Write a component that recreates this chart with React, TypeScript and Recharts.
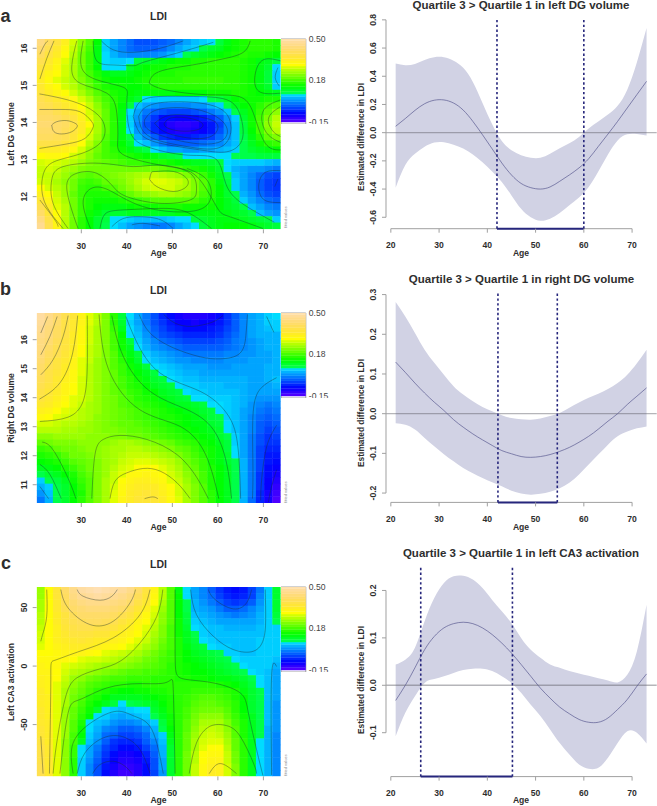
import React from 'react';
import {
  ComposedChart, ScatterChart, Scatter, Area, Line, XAxis, YAxis, ReferenceLine, ReferenceArea,
} from 'recharts';

const FONT = '"Liberation Sans", Arial, sans-serif';
const INK = '#2e2e2e';
const AXIS_GREY = '#a0a0a0';
const NAVY = '#26267c';

// cell centres of the 30 x 30 grid, ages are shared by the three maps
const heatAges = [21.1, 22.9, 24.7, 26.5, 28.3, 30.1, 31.9, 33.6, 35.4, 37.2, 39, 40.8, 42.5, 44.3, 46.1, 47.9, 49.7, 51.5, 53.2, 55, 56.8, 58.6, 60.4, 62.2, 63.9, 65.7, 67.5, 69.3, 71.1, 72.9];
const rowsYA = [16.16, 15.99, 15.82, 15.65, 15.48, 15.31, 15.14, 14.96, 14.79, 14.62, 14.45, 14.28, 14.11, 13.94, 13.77, 13.6, 13.43, 13.26, 13.09, 12.92, 12.74, 12.57, 12.4, 12.23, 12.06, 11.89, 11.72, 11.55, 11.38, 11.21];
const rowsYB = [16.81, 16.59, 16.37, 16.16, 15.94, 15.72, 15.5, 15.28, 15.06, 14.85, 14.63, 14.41, 14.19, 13.97, 13.75, 13.54, 13.32, 13.1, 12.88, 12.66, 12.44, 12.23, 12.01, 11.79, 11.57, 11.35, 11.13, 10.92, 10.7, 10.48];
const rowsYC = [64.9, 59.5, 54.1, 48.7, 43.3, 37.9, 32.5, 27.1, 21.7, 16.3, 10.9, 5.5, 0.1, -5.3, -10.7, -16.1, -21.5, -26.9, -32.3, -37.7, -43.1, -48.5, -53.9, -59.3, -64.7, -70.1, -75.5, -80.9, -86.3, -91.7];

// LDI x 100, top row first
const heatA = [
  [44, 40, 36, 32, 27, 22, 18, 12, 5, 2, 0, -2, -4, -4, -4, -3, -2, 0, 2, 4, 5, 6, 8, 11, 13, 14, 15, 15, 15, 14],
  [42, 38, 34, 30, 26, 21, 17, 11, 5, 2, 0, -2, -3, -3, -3, -2, 0, 2, 4, 5, 7, 9, 10, 12, 13, 14, 15, 15, 15, 14],
  [40, 36, 33, 29, 25, 20, 16, 11, 6, 3, 1, 0, 0, 0, 0, 1, 3, 5, 7, 9, 10, 11, 12, 13, 14, 15, 14, 14, 13, 12],
  [38, 34, 31, 28, 24, 20, 16, 11, 6, 5, 5, 6, 8, 9, 10, 11, 12, 13, 13, 14, 14, 15, 15, 15, 15, 14, 13, 11, 10, 8],
  [36, 33, 30, 27, 24, 20, 16, 12, 6, 6, 6, 9, 11, 12, 13, 13, 14, 14, 14, 15, 15, 15, 15, 15, 15, 14, 13, 11, 9, 6],
  [34, 31, 29, 27, 24, 20, 17, 14, 11, 10, 10, 11, 12, 13, 14, 14, 14, 15, 15, 15, 15, 15, 15, 15, 15, 14, 13, 11, 8, 5],
  [33, 30, 28, 26, 24, 21, 18, 15, 13, 12, 12, 12, 13, 14, 15, 15, 15, 15, 16, 16, 16, 16, 16, 15, 15, 14, 13, 11, 8, 5],
  [34, 31, 29, 27, 25, 22, 19, 16, 14, 13, 13, 12, 12, 13, 14, 15, 15, 15, 15, 15, 15, 15, 15, 15, 15, 14, 13, 11, 9, 5],
  [36, 33, 31, 29, 27, 24, 21, 18, 16, 14, 13, 12, 11, 11, 11, 11, 11, 12, 12, 12, 12, 13, 13, 13, 14, 14, 13, 12, 11, 10],
  [38, 36, 34, 32, 30, 27, 24, 20, 17, 15, 13, 11, 9, 6, 5, 5, 5, 5, 5, 5, 6, 7, 8, 10, 12, 13, 13, 13, 14, 14],
  [39, 38, 36, 34, 32, 29, 26, 22, 18, 15, 12, 8, 4, 2, 1, 0, 0, 0, 0, 1, 1, 3, 5, 7, 10, 12, 13, 15, 17, 18],
  [40, 40, 38, 36, 34, 31, 27, 23, 19, 15, 11, 6, 2, -1, -3, -4, -5, -5, -5, -4, -3, -1, 1, 4, 7, 10, 13, 16, 19, 22],
  [41, 41, 40, 38, 36, 32, 28, 24, 19, 15, 11, 5, 1, -3, -6, -9, -9, -10, -10, -9, -8, -6, -3, 1, 5, 9, 13, 17, 21, 25],
  [42, 42, 41, 40, 37, 33, 29, 24, 19, 15, 11, 5, 0, -4, -7, -10, -12, -13, -13, -12, -10, -8, -5, 0, 4, 8, 13, 17, 22, 26],
  [41, 41, 41, 39, 36, 33, 28, 24, 19, 15, 11, 6, 1, -3, -7, -9, -11, -12, -12, -11, -10, -8, -4, 0, 4, 8, 12, 17, 21, 25],
  [40, 40, 39, 38, 35, 31, 27, 23, 18, 15, 11, 7, 3, 0, -3, -6, -7, -8, -8, -7, -6, -5, -2, 1, 4, 7, 11, 15, 19, 21],
  [37, 37, 37, 35, 33, 29, 25, 21, 17, 14, 12, 9, 6, 4, 1, -1, -3, -3, -3, -3, -2, -1, 0, 2, 4, 7, 10, 13, 15, 16],
  [33, 33, 33, 32, 30, 27, 23, 20, 17, 15, 13, 11, 9, 7, 6, 4, 2, 2, 1, 1, 2, 2, 3, 4, 5, 7, 9, 10, 11, 12],
  [29, 30, 30, 29, 27, 25, 22, 19, 17, 16, 15, 14, 13, 12, 11, 9, 8, 7, 6, 6, 6, 6, 6, 6, 7, 7, 7, 8, 8, 8],
  [27, 28, 27, 26, 25, 23, 21, 20, 19, 18, 17, 16, 16, 15, 14, 14, 13, 12, 11, 10, 10, 9, 8, 6, 5, 5, 5, 5, 4, 3],
  [26, 27, 26, 24, 23, 21, 20, 20, 20, 20, 20, 20, 20, 20, 20, 19, 18, 17, 15, 14, 13, 11, 9, 6, 3, 2, 1, 1, 0, -1],
  [26, 26, 25, 23, 21, 19, 18, 19, 20, 21, 22, 23, 24, 25, 26, 25, 24, 23, 21, 19, 16, 13, 10, 7, 4, 2, 0, -2, -4, -5],
  [27, 26, 24, 22, 20, 17, 16, 17, 19, 20, 21, 23, 25, 27, 28, 28, 27, 26, 24, 21, 18, 15, 11, 8, 5, 2, 0, -3, -5, -6],
  [29, 27, 25, 23, 20, 16, 15, 15, 17, 18, 20, 22, 24, 26, 27, 27, 27, 25, 24, 21, 18, 15, 12, 9, 5, 2, 0, -3, -5, -6],
  [32, 29, 26, 23, 19, 16, 14, 14, 14, 15, 17, 19, 21, 22, 23, 24, 24, 23, 22, 20, 17, 15, 12, 9, 7, 3, 1, -2, -4, -5],
  [35, 31, 27, 24, 20, 16, 14, 13, 13, 13, 14, 15, 16, 17, 18, 18, 18, 18, 18, 17, 15, 14, 12, 10, 8, 5, 2, 0, -2, -3],
  [38, 33, 28, 25, 20, 16, 14, 12, 11, 11, 11, 12, 13, 13, 13, 14, 14, 14, 13, 13, 13, 13, 12, 10, 9, 7, 4, 2, 0, -1],
  [41, 35, 29, 25, 20, 16, 13, 11, 9, 9, 9, 10, 10, 10, 10, 10, 10, 11, 11, 11, 11, 11, 11, 11, 10, 9, 7, 4, 2, 1],
  [44, 37, 30, 25, 20, 15, 12, 9, 8, 6, 6, 5, 4, 4, 4, 4, 5, 6, 6, 8, 9, 10, 11, 11, 11, 10, 9, 8, 7, 5],
  [46, 38, 31, 25, 20, 15, 12, 9, 7, 6, 4, 2, 1, 0, -1, -1, 0, 2, 4, 6, 8, 10, 11, 12, 12, 12, 11, 10, 9, 8],
];

const heatB = [
  [48, 45, 42, 38, 35, 31, 28, 25, 21, 15, 8, 6, 2, -1, -4, -7, -9, -11, -12, -12, -12, -11, -9, -6, -3, 0, 2, 3, 5, 6],
  [47, 44, 41, 37, 34, 31, 28, 25, 21, 15, 9, 5, 2, -1, -4, -6, -8, -10, -10, -11, -10, -10, -8, -6, -3, 0, 2, 3, 5, 5],
  [46, 43, 40, 37, 34, 30, 27, 24, 21, 16, 10, 6, 3, 0, -3, -5, -7, -8, -9, -9, -9, -8, -7, -5, -3, 0, 2, 3, 4, 5],
  [45, 43, 40, 37, 33, 30, 27, 24, 21, 17, 12, 6, 4, 1, -2, -4, -5, -6, -7, -7, -7, -7, -6, -4, -2, 0, 2, 3, 3, 3],
  [44, 42, 39, 36, 33, 30, 27, 24, 21, 17, 13, 8, 5, 2, 0, -2, -3, -4, -5, -5, -5, -5, -4, -3, -1, 0, 1, 2, 3, 3],
  [44, 41, 38, 36, 33, 29, 26, 24, 21, 17, 13, 10, 6, 3, 1, 0, -1, -2, -3, -3, -3, -3, -3, -2, -1, 0, 1, 2, 3, 3],
  [43, 40, 38, 35, 32, 29, 26, 24, 21, 18, 14, 11, 8, 5, 3, 2, 1, 0, -1, -1, -1, -1, -1, 0, 0, 1, 1, 2, 2, 3],
  [42, 39, 36, 34, 31, 28, 26, 23, 21, 18, 15, 12, 9, 6, 4, 3, 2, 1, 1, 0, 0, 0, 0, 1, 1, 1, 2, 2, 2, 3],
  [41, 38, 36, 33, 31, 28, 25, 23, 21, 18, 16, 13, 11, 8, 6, 5, 4, 3, 2, 2, 2, 1, 1, 1, 2, 2, 2, 2, 3, 3],
  [40, 37, 35, 33, 30, 28, 25, 23, 21, 19, 16, 14, 12, 10, 8, 6, 5, 4, 3, 3, 2, 2, 2, 2, 2, 2, 2, 2, 3, 3],
  [39, 37, 34, 32, 30, 27, 25, 23, 21, 19, 17, 15, 13, 11, 9, 8, 6, 5, 4, 4, 3, 3, 3, 3, 3, 3, 2, 2, 3, 4],
  [38, 36, 34, 31, 29, 27, 25, 23, 21, 19, 17, 15, 14, 12, 10, 9, 8, 6, 5, 5, 4, 4, 4, 3, 3, 3, 2, 2, 2, 3],
  [37, 35, 33, 31, 29, 27, 25, 23, 21, 19, 18, 16, 15, 13, 12, 10, 9, 8, 6, 5, 5, 4, 4, 4, 4, 3, 2, 2, 2, 2],
  [36, 34, 32, 30, 28, 27, 25, 23, 21, 20, 18, 17, 15, 14, 13, 11, 10, 9, 8, 6, 6, 5, 5, 5, 4, 3, 2, 1, 1, 1],
  [34, 33, 31, 29, 28, 26, 24, 23, 21, 20, 18, 17, 16, 15, 14, 13, 11, 10, 10, 9, 8, 6, 6, 5, 4, 3, 1, 0, -1, 0],
  [32, 31, 29, 28, 27, 25, 24, 23, 21, 20, 19, 18, 17, 16, 15, 14, 13, 12, 11, 10, 9, 8, 6, 5, 4, 2, 1, -1, -2, -1],
  [30, 29, 28, 27, 26, 25, 24, 22, 21, 20, 19, 18, 17, 16, 15, 14, 14, 13, 12, 11, 10, 8, 7, 5, 4, 2, 0, -2, -3, -2],
  [27, 27, 26, 25, 25, 24, 23, 22, 21, 20, 19, 19, 18, 17, 16, 15, 14, 13, 12, 11, 11, 9, 8, 6, 4, 2, 0, -3, -4, -3],
  [25, 25, 25, 24, 24, 23, 23, 22, 21, 21, 20, 19, 19, 18, 17, 16, 15, 14, 13, 12, 11, 10, 9, 6, 4, 2, 0, -3, -5, -4],
  [22, 22, 23, 23, 23, 23, 22, 22, 22, 21, 21, 20, 20, 19, 18, 17, 16, 15, 14, 13, 12, 11, 9, 7, 5, 2, -1, -4, -6, -5],
  [19, 20, 21, 21, 21, 22, 22, 22, 22, 23, 24, 24, 23, 22, 21, 20, 19, 17, 16, 15, 13, 12, 10, 8, 5, 2, -1, -4, -6, -6],
  [16, 17, 19, 20, 20, 21, 22, 22, 23, 24, 24, 25, 25, 24, 23, 22, 21, 19, 18, 16, 14, 13, 11, 8, 6, 2, -1, -5, -7, -7],
  [14, 15, 16, 18, 20, 20, 21, 22, 23, 24, 25, 26, 26, 26, 25, 24, 23, 21, 19, 17, 15, 13, 11, 9, 6, 2, -1, -5, -8, -8],
  [12, 13, 14, 16, 18, 19, 20, 21, 23, 24, 26, 27, 28, 28, 27, 26, 25, 23, 20, 18, 16, 13, 11, 9, 7, 3, -1, -5, -8, -9],
  [10, 11, 12, 14, 16, 18, 20, 21, 23, 25, 27, 28, 29, 29, 29, 28, 26, 24, 21, 19, 16, 14, 12, 10, 7, 3, -1, -5, -9, -10],
  [7, 9, 10, 12, 14, 17, 19, 21, 23, 26, 28, 30, 30, 31, 30, 29, 27, 25, 22, 20, 17, 14, 12, 10, 7, 3, -1, -6, -9, -11],
  [5, 7, 8, 10, 13, 16, 18, 21, 24, 26, 29, 31, 32, 32, 31, 30, 28, 26, 23, 20, 17, 14, 12, 10, 7, 3, -1, -6, -10, -12],
  [3, 5, 7, 9, 12, 15, 18, 21, 24, 27, 30, 32, 33, 33, 33, 31, 29, 27, 24, 21, 18, 14, 12, 10, 7, 3, -1, -6, -10, -13],
  [1, 4, 7, 9, 12, 14, 18, 21, 24, 28, 30, 33, 34, 35, 34, 32, 30, 27, 24, 21, 18, 15, 12, 10, 7, 3, -1, -7, -11, -14],
  [-1, 3, 7, 9, 12, 15, 18, 21, 24, 28, 31, 33, 35, 35, 35, 33, 30, 28, 24, 21, 18, 15, 12, 10, 7, 3, -2, -7, -11, -15],
];

const heatC = [
  [23, 29, 35, 41, 45, 48, 49, 50, 49, 48, 47, 45, 41, 36, 31, 25, 18, 11, 6, 2, 0, -3, -6, -8, -9, -8, -5, -1, 5, 9],
  [23, 29, 35, 40, 44, 46, 47, 48, 47, 46, 45, 43, 39, 35, 30, 25, 18, 12, 6, 2, 0, -2, -5, -7, -8, -7, -5, 0, 5, 9],
  [24, 29, 34, 39, 42, 44, 45, 45, 45, 44, 43, 41, 37, 34, 29, 24, 18, 12, 7, 3, 1, -1, -3, -5, -6, -5, -3, 1, 5, 9],
  [24, 29, 34, 38, 41, 42, 43, 43, 43, 42, 41, 38, 35, 32, 28, 23, 18, 12, 7, 3, 2, 1, -1, -3, -3, -2, 0, 2, 5, 9],
  [25, 29, 33, 36, 39, 41, 41, 41, 41, 40, 38, 36, 33, 30, 27, 22, 18, 12, 8, 4, 3, 2, 1, 0, -1, 0, 1, 3, 5, 8],
  [25, 29, 33, 36, 38, 39, 40, 40, 39, 38, 36, 34, 31, 29, 26, 22, 18, 13, 8, 5, 4, 3, 2, 2, 2, 2, 2, 3, 5, 7],
  [26, 29, 32, 35, 37, 38, 38, 37, 37, 36, 34, 32, 30, 28, 25, 21, 17, 13, 9, 6, 5, 4, 4, 3, 3, 3, 3, 4, 5, 5],
  [27, 29, 32, 34, 36, 36, 36, 35, 35, 33, 32, 31, 29, 27, 24, 21, 17, 13, 10, 7, 5, 4, 4, 4, 4, 4, 4, 4, 5, 5],
  [27, 29, 32, 33, 34, 35, 34, 33, 33, 32, 31, 29, 28, 26, 23, 20, 17, 14, 10, 8, 6, 5, 4, 4, 4, 4, 4, 5, 5, 5],
  [28, 29, 31, 32, 33, 33, 33, 32, 31, 30, 29, 28, 26, 24, 22, 19, 17, 14, 11, 9, 8, 6, 5, 5, 4, 4, 4, 5, 5, 5],
  [29, 29, 30, 31, 31, 31, 30, 29, 28, 27, 26, 25, 24, 22, 20, 18, 16, 14, 12, 10, 9, 8, 7, 5, 5, 4, 4, 5, 5, 5],
  [30, 30, 30, 30, 29, 28, 27, 27, 26, 25, 24, 23, 22, 20, 19, 17, 16, 14, 12, 11, 10, 9, 8, 7, 6, 5, 5, 5, 5, 4],
  [31, 30, 30, 28, 27, 26, 25, 24, 23, 23, 22, 21, 20, 19, 18, 17, 15, 14, 13, 12, 11, 10, 9, 8, 7, 6, 5, 5, 5, 3],
  [31, 31, 29, 27, 25, 24, 23, 22, 21, 20, 19, 18, 18, 17, 17, 16, 15, 14, 13, 12, 12, 11, 10, 9, 8, 7, 6, 5, 4, 2],
  [32, 31, 29, 26, 23, 22, 20, 19, 18, 17, 17, 16, 16, 16, 15, 15, 15, 14, 14, 13, 13, 12, 11, 11, 10, 9, 7, 6, 4, 2],
  [32, 31, 28, 25, 22, 20, 18, 17, 16, 15, 15, 14, 14, 15, 15, 15, 15, 15, 15, 15, 15, 15, 14, 13, 12, 10, 8, 6, 4, 2],
  [33, 31, 28, 24, 21, 19, 17, 15, 14, 13, 12, 12, 13, 13, 14, 14, 15, 15, 15, 16, 16, 16, 16, 15, 14, 11, 9, 7, 4, 2],
  [33, 32, 28, 24, 20, 18, 15, 14, 12, 10, 10, 10, 10, 11, 12, 13, 14, 15, 16, 17, 18, 18, 17, 16, 14, 12, 9, 7, 4, 2],
  [33, 32, 28, 24, 20, 17, 14, 12, 10, 8, 6, 7, 8, 9, 10, 12, 14, 15, 16, 18, 19, 19, 18, 17, 15, 12, 9, 7, 4, 1],
  [34, 32, 28, 23, 19, 16, 13, 9, 6, 5, 4, 5, 6, 6, 9, 11, 14, 15, 17, 19, 20, 20, 20, 18, 15, 12, 9, 7, 4, 1],
  [34, 32, 28, 23, 19, 15, 12, 6, 5, 3, 2, 3, 4, 5, 7, 10, 13, 15, 17, 20, 22, 22, 22, 19, 16, 13, 10, 7, 4, 1],
  [34, 33, 28, 23, 18, 14, 6, 4, 3, 1, 0, 0, 1, 3, 5, 8, 13, 15, 18, 21, 24, 24, 24, 21, 17, 14, 10, 7, 4, 1],
  [35, 33, 28, 23, 18, 13, 6, 3, 0, -1, -3, -3, -2, 0, 3, 7, 12, 15, 18, 22, 25, 26, 25, 22, 18, 14, 10, 7, 3, 1],
  [35, 33, 28, 23, 17, 12, 5, 2, -2, -3, -5, -5, -4, -2, 2, 5, 11, 15, 19, 23, 26, 27, 26, 23, 18, 14, 10, 7, 3, 0],
  [36, 33, 28, 22, 17, 10, 4, 1, -3, -6, -7, -7, -6, -3, 0, 4, 10, 15, 19, 24, 27, 28, 28, 24, 19, 15, 10, 6, 3, 0],
  [37, 34, 28, 22, 16, 6, 2, -1, -5, -7, -9, -9, -8, -5, -2, 3, 9, 15, 19, 24, 28, 29, 29, 25, 19, 15, 10, 6, 3, 0],
  [37, 34, 28, 22, 16, 6, 2, -2, -6, -9, -11, -11, -10, -7, -3, 3, 9, 15, 20, 25, 29, 30, 30, 26, 20, 15, 10, 6, 3, 0],
  [37, 34, 28, 22, 15, 5, 1, -3, -7, -10, -12, -12, -11, -8, -4, 2, 9, 15, 20, 25, 29, 31, 31, 26, 20, 15, 10, 6, 3, 0],
  [38, 34, 28, 22, 15, 5, 0, -4, -8, -11, -13, -13, -12, -9, -4, 2, 9, 15, 20, 26, 30, 32, 32, 27, 21, 15, 10, 6, 3, 0],
  [38, 34, 28, 22, 15, 5, 0, -4, -9, -12, -14, -14, -12, -9, -5, 1, 9, 15, 20, 26, 30, 33, 32, 27, 21, 15, 10, 6, 3, 0],
];

// contour lines as [age, y] paths
const contoursA = [
  [[23.5, 13.93], [24.6, 14.02], [26.8, 14.05], [28.6, 13.98], [29.1, 13.89], [27.9, 13.75], [25.7, 13.69], [24, 13.75], [23.5, 13.93]],
  [[20.8, 14.35], [25.3, 14.35], [29.7, 14.29], [32.3, 14.02], [32.5, 13.84], [30.8, 13.57], [26.8, 13.42], [20.8, 13.3]],
  [[20.8, 14.77], [24.6, 14.68], [29.7, 14.5], [33.7, 14.2], [35.2, 13.84], [34.1, 13.44], [29.7, 13.15], [24.6, 12.97], [22, 12.72], [21.3, 12.27], [22.4, 11.73], [26, 11.14]],
  [[20.9, 11.91], [24.2, 11.37], [24.9, 11.19]],
  [[20.9, 15.17], [22.4, 15.72], [24, 16.2]],
  [[20.9, 15.84], [22, 16.11], [22.7, 16.2]],
  [[27.1, 11.14], [23.8, 11.82], [23.5, 12.45], [26, 12.81], [34.1, 12.9], [41.4, 12.81], [47.3, 12.85], [53.9, 12.63], [55.3, 12.18], [53.9, 11.91], [47.3, 11.82], [40, 12], [37, 12.27], [33.4, 12.63], [29, 12.63], [26.8, 12.31], [27.9, 11.64], [29.3, 11.14]],
  [[45, 12.47], [45.4, 12.65], [46.6, 12.68], [50.2, 12.68], [53.1, 12.5], [53.1, 12.27], [50.2, 12.14], [46.6, 12.27], [45, 12.47]],
  [[32, 11.14], [30.4, 11.82], [32, 12.21], [36, 12.18], [43.6, 11.73], [53.9, 11.6], [58.3, 11.91], [57.6, 12.45], [53.2, 12.76]],
  [[29, 16.2], [27.9, 15.51], [29.7, 15.06], [35.6, 14.79], [37.8, 14.25], [38, 13.53], [39.7, 13.1], [48.8, 12.82], [55.4, 12.54], [59.7, 11.73], [62.6, 11.46], [69.9, 11.14]],
  [[30.4, 16.2], [30, 15.51], [33.4, 15.15], [39.2, 14.95], [40, 14.61], [40.6, 13.8], [44.4, 13.35], [53.2, 13.12], [59.7, 13], [62, 12.27], [66.4, 11.73], [72.4, 11.31]],
  [[44.9, 15.06], [47.1, 15.37], [54.4, 15.55], [60.2, 15.69], [65.3, 15.87], [67.1, 16.2]],
  [[44.9, 15.06], [48.5, 14.88], [57.3, 14.75], [64.6, 14.7], [67.8, 14.25], [70.4, 13.44], [74, 13.26]],
  [[32.6, 16.2], [33.4, 15.66], [37, 15.55], [41.4, 15.53], [43.6, 15.62], [51, 15.87], [59, 16.16]],
  [[34.4, 16.2], [37, 15.96], [41.4, 15.89], [47.3, 16], [52.4, 16.2]],
  [[41.4, 14.16], [42.9, 14.56], [47.3, 14.7], [54.6, 14.7], [62, 14.61], [65, 14.16], [65.3, 13.53], [62, 13.21], [56.1, 13.26], [47.3, 13.44], [42.9, 13.71], [41.4, 14.16]],
  [[42.6, 14.16], [44.4, 14.43], [50.2, 14.56], [59, 14.45], [62.6, 14.07], [62.6, 13.62], [59.7, 13.3], [53.2, 13.35], [46.6, 13.53], [43.4, 13.8], [42.6, 14.16]],
  [[43.9, 14.07], [46.6, 14.34], [53.2, 14.39], [59, 14.2], [62, 13.84], [60.5, 13.48], [54.6, 13.44], [48.2, 13.62], [44.4, 13.84], [43.9, 14.07]],
  [[46.1, 13.98], [49.6, 14.2], [55.4, 14.16], [59.7, 13.98], [59, 13.66], [54.6, 13.57], [48.8, 13.72], [46.1, 13.98]],
  [[48.2, 13.97], [50, 14.13], [54.3, 14.1], [56.7, 13.95], [55.4, 13.8], [51.7, 13.77], [48.8, 13.86], [48.2, 13.97]],
  [[73.8, 14.61], [70.4, 14.39], [69.7, 14.02], [71.1, 13.66], [73.8, 13.46]],
  [[73.8, 14.43], [71.8, 14.25], [71.1, 14.02], [72.2, 13.75], [73.8, 13.62]],
  [[73.8, 15.66], [70, 15.69], [68.2, 15.3], [69, 14.84], [73.8, 14.79]],
  [[73.2, 15.48], [72.6, 15.21], [73.5, 14.98]],
  [[73.8, 12.7], [70.5, 12.66], [69, 12.34], [70, 11.93], [73.8, 11.84]],
  [[73.2, 12.48], [72.5, 12.27]],
  [[34.1, 11.14], [35.2, 11.53], [38.9, 11.64], [46.2, 11.68], [52.8, 11.6], [58.6, 11.14]],
  [[36.7, 11.19], [39.2, 11.41], [42.9, 11.46], [46.6, 11.41], [48.8, 11.28], [50.2, 11.14]],
  [[41.1, 11.24], [43.6, 11.28], [47.3, 11.21]],
];

const contoursB = [
  [[22.6, 16.8], [21.1, 16.23]],
  [[24.7, 16.8], [23.1, 16.11], [21.1, 15.48]],
  [[27.1, 16.83], [26, 16.11], [23.8, 15.31], [21.1, 14.79]],
  [[29.2, 16.83], [28.1, 15.54], [25.3, 14.51], [20.8, 13.95]],
  [[31.3, 16.83], [31.3, 15.03], [30.4, 13.88], [27.1, 13.33], [20.9, 13.18]],
  [[33.9, 16.87], [36, 14.97], [42.9, 13.58], [51.7, 13.01], [57.3, 12.04], [60.2, 10.52]],
  [[36.7, 16.83], [39.2, 15.43], [45.1, 14.22], [53.2, 13.59], [59, 12.9], [61.9, 11.75], [63, 10.52]],
  [[39.8, 16.8], [42.1, 15.94], [47.3, 14.85], [56.1, 14.22], [61.9, 13.47], [64.3, 12.43], [65, 10.52]],
  [[42.7, 16.87], [45.1, 16.23], [50.2, 15.72], [56.1, 15.41], [60.5, 15.34], [64.9, 15.54], [66.2, 16.23], [66.5, 16.87]],
  [[48.1, 16.87], [50.6, 16.57], [54.3, 16.46], [58.7, 16.6], [61.1, 16.83]],
  [[70.7, 16.8], [72.3, 16.25]],
  [[72.9, 14.69], [69.2, 14.28], [67.7, 13.36], [67.7, 11.64], [67.6, 10.52]],
  [[72.9, 13.05], [70.7, 12.3], [69.6, 11.15], [69.4, 10.46]],
  [[72.9, 11.52], [71.8, 10.95], [71.1, 10.4]],
  [[20.9, 11.7], [23.1, 11.35], [25.6, 10.52]],
  [[21.4, 12.47], [23.8, 12.2], [27.1, 11.22], [28.8, 10.52]],
  [[20.9, 10.94], [22.8, 10.52]],
  [[32.3, 10.52], [33, 12.04], [34.8, 12.56], [38.5, 12.7], [44.4, 12.56], [51, 12.04], [55.4, 11.24], [57.9, 10.52]],
  [[36.3, 10.52], [37.4, 11.12], [40, 11.41], [43.6, 11.56], [47.3, 11.47], [51, 11.07], [53.9, 10.52]],
  [[43.9, 10.52], [45.7, 10.58], [46.8, 10.52]],
];

const contoursC = [
  [[29.1, 65.4], [30.4, 59.7], [34.1, 56.3], [36.7, 59.7], [37.9, 65.4]],
  [[25.5, 65.4], [27.1, 49.7], [31.9, 35.5], [37, 38.3], [40.7, 54], [41.9, 65.4]],
  [[45.1, 65.4], [42.9, 44], [37, 24.1], [29.7, 12.7], [24.2, 5], [23.3, -11.5], [23, -91.9]],
  [[47.9, 65.4], [46.6, 42.6], [42.9, 19.8], [38.5, 4.1], [34.1, -2.4], [29, -10.1], [26.4, -28.6], [24.6, -65.7], [23.8, -91.9]],
  [[22.4, 65.4], [22.4, 42.6], [21.6, 28.3], [21.1, 21.2]],
  [[21.1, -60], [21.6, -91.9]],
  [[50.6, 65.4], [50.6, 11.3], [51, -7.3], [53.2, -11.5], [59, -14.4], [64.9, -22.9], [66.7, -40], [68.5, -71.4], [69.9, -93.6]],
  [[25.3, -91.9], [27.1, -40], [29.7, -28.6], [35.6, -18.7], [42.9, -15], [48.8, -13.8], [50.2, -20.1], [50.6, -91.9]],
  [[28.2, -91.9], [28.2, -65.7], [32.6, -47.2], [37.8, -38.6], [41.7, -42.9], [45.5, -54.3], [48, -91.9]],
  [[29.1, -91.9], [30.8, -74.2], [34.8, -61.4], [39.2, -60.5], [42.9, -71.4], [45.1, -91.9]],
  [[32.5, -91.9], [34.1, -84.2], [37, -81.3], [39.6, -85.6], [41.1, -91.9]],
  [[54, 65.4], [55.3, 44], [59, 25.5], [63.4, 14.1], [67.8, 12.7], [70, 22.6], [70.5, 39.7], [70.4, 65.4]],
  [[57.9, 65.4], [59.4, 56.8], [63.4, 48.9], [66.3, 54], [67.4, 65.4]],
  [[53.7, -91.9], [55.3, -65.7], [58.3, -51.4], [61.9, -50.9], [64.9, -60], [67.8, -82.8], [68.5, -91.9]],
  [[58.1, -91.9], [60.5, -83.3], [64.1, -91.9]],
  [[72.9, -0.4], [71.8, -8.7], [71.8, -93]],
];

// right hand panels, same ages for all three
const ciAges = [21, 23, 25, 27, 29, 31, 33, 35, 37, 39, 41, 43, 45, 47, 49, 51, 53, 55, 57, 59, 61, 63, 65, 67, 69, 71, 73];
const hiA = [0.49, 0.478, 0.487, 0.515, 0.535, 0.535, 0.51, 0.46, 0.36, 0.21, 0.06, -0.06, -0.125, -0.16, -0.178, -0.178, -0.15, -0.11, -0.075, -0.03, 0.03, 0.08, 0.128, 0.19, 0.305, 0.5, 0.742];
const loA = [-0.39, -0.23, -0.15, -0.1, -0.07, -0.068, -0.085, -0.113, -0.155, -0.21, -0.275, -0.35, -0.445, -0.54, -0.6, -0.625, -0.61, -0.57, -0.515, -0.46, -0.385, -0.275, -0.155, -0.055, -0.012, -0.01, -0.02];
const fitA = [0.045, 0.1, 0.158, 0.205, 0.23, 0.232, 0.21, 0.16, 0.08, -0.015, -0.115, -0.215, -0.3, -0.36, -0.39, -0.4, -0.385, -0.345, -0.3, -0.25, -0.185, -0.098, -0.01, 0.08, 0.175, 0.27, 0.364];
const hiB = [0.2815, 0.245, 0.203, 0.161, 0.128, 0.098, 0.069, 0.048, 0.031, 0.017, 0.006, -0.004, -0.011, -0.014, -0.015, -0.012, -0.006, 0.002, 0.015, 0.028, 0.04, 0.05, 0.062, 0.077, 0.098, 0.127, 0.161];
const loB = [-0.024, -0.028, -0.04, -0.061, -0.082, -0.102, -0.12, -0.137, -0.15, -0.162, -0.173, -0.183, -0.194, -0.201, -0.204, -0.202, -0.197, -0.188, -0.174, -0.153, -0.128, -0.103, -0.078, -0.057, -0.045, -0.037, -0.032];
const fitB = [0.13, 0.104, 0.077, 0.052, 0.029, 0.008, -0.015, -0.034, -0.051, -0.066, -0.08, -0.093, -0.101, -0.108, -0.11, -0.108, -0.103, -0.095, -0.085, -0.072, -0.057, -0.039, -0.019, 0, 0.023, 0.044, 0.065];
const hiC = [0.0436, 0.054, 0.079, 0.135, 0.184, 0.216, 0.23, 0.231, 0.223, 0.205, 0.18, 0.156, 0.131, 0.1, 0.075, 0.058, 0.044, 0.037, 0.03, 0.025, 0.02, 0.015, 0.01, 0.006, 0.022, 0.072, 0.17];
const loC = [-0.1075, -0.058, -0.023, 0.005, 0.013, 0.019, 0.026, 0.032, 0.035, 0.035, 0.03, 0.019, 0.005, -0.016, -0.041, -0.065, -0.093, -0.122, -0.146, -0.167, -0.176, -0.174, -0.153, -0.122, -0.097, -0.1, -0.123];
const fitC = [-0.032, 0, 0.037, 0.075, 0.103, 0.121, 0.13, 0.133, 0.13, 0.121, 0.107, 0.089, 0.068, 0.044, 0.019, -0.006, -0.027, -0.046, -0.06, -0.072, -0.078, -0.078, -0.069, -0.051, -0.03, -0.002, 0.024];

const legendLevels = [-15, -13, -11, -9, -7, -5, -3, -1, 1, 3, 5, 6, 7, 9, 11, 13, 15, 17, 19, 21, 23, 25, 27, 29, 31, 33, 35, 37, 39, 41, 43, 45, 47, 49];
const ageTicks = [30, 40, 50, 60, 70];
const ciAgeTicks = [20, 30, 40, 50, 60, 70];

// R topo.colors, continuous: blue to cyan, then a jump to green, on to yellow and peach
function hsv(h: number, s: number, v: number) {
  const f = (n: number) => {
    const k = (n + h / 60) % 6;
    return Math.round(255 * (v - v * s * Math.max(0, Math.min(k, 4 - k, 1))));
  };
  return `rgb(${f(5)},${f(3)},${f(1)})`;
}
function topo(value: number) {
  const t = Math.max(0, Math.min(1, (value + 15) / 65));
  if (t < 1 / 3) return hsv(258 - 72 * (t * 3), 1, 1);
  if (t < 2 / 3) return hsv(138 - 72 * (t * 3 - 1), 1, 1);
  const u = t * 3 - 2;
  return hsv(60 - 24 * u, 1 - 0.7 * u, 1);
}

const Caption = ({ x, y, text, size, bold = true, rotate = 0, color = INK }: any) => (
  <div style={{
    position: 'absolute', left: x, top: y, transform: `translate(-50%,-50%) rotate(${rotate}deg)`,
    fontFamily: FONT, fontSize: size, fontWeight: bold ? 700 : 400, color, whiteSpace: 'nowrap', lineHeight: 1,
  }}>{text}</div>
);

const BottomTick = ({ x, y, payload }: any) => (
  <text x={x} y={y + 13.5} textAnchor="middle" fontFamily={FONT} fontSize={8.6} fontWeight={700} fill={INK}>{payload.value}</text>
);

const RotTick = ({ x, y, payload, format }: any) => (
  <text x={x - 4} y={y} transform={`rotate(-90 ${x - 4} ${y})`} textAnchor="middle" fontFamily={FONT} fontSize={8.6} fontWeight={700} fill={INK}>
    {format ? format(payload.value) : payload.value}
  </text>
);

const CellShape = ({ cx, cy, payload }: any) => (
  <rect x={cx - 4.3} y={cy - 3.4} width={8.6} height={6.8} fill={topo(payload.v)} stroke="none" />
);
const LegendCell = ({ cx, cy, payload }: any) => (
  <rect x={cx - 12.4} y={cy - 1.4} width={24.8} height={2.8} fill={topo(payload.v)} stroke="none" />
);
const NoMark = () => null;

const HeatMap = ({ top, height, rows, rowY, contours, yDomain, yTicks }: any) => {
  const cells = rows.flatMap((row: number[], i: number) => row.map((v, j) => ({ x: heatAges[j], y: rowY[i], v })));
  return (
    <div style={{ position: 'absolute', left: 0, top: top - 5 }}>
      <ScatterChart width={330} height={height + 30} margin={{ top: 5, left: 0, right: 49.3, bottom: 0 }}>
        <XAxis type="number" dataKey="x" domain={[20.2, 73.8]} ticks={ageTicks} height={25} allowDataOverflow
          axisLine={false} tickLine={{ stroke: AXIS_GREY }} tickSize={4} tick={<BottomTick />} interval={0} />
        <YAxis type="number" dataKey="y" domain={yDomain} ticks={yTicks} width={36.7} allowDataOverflow
          axisLine={false} tickLine={{ stroke: AXIS_GREY }} tickSize={4} tick={<RotTick />} interval={0} />
        <Scatter data={cells} shape={<CellShape />} isAnimationActive={false} />
        {contours.map((path: number[][], k: number) => (
          <Scatter key={k} data={path.map(([x, y]) => ({ x, y }))} shape={NoMark} isAnimationActive={false}
            line={{ stroke: 'rgba(25,45,45,0.72)', strokeWidth: 0.55 }} lineJointType="natural" />
        ))}
      </ScatterChart>
    </div>
  );
};

const ColorKey = ({ top }: any) => (
  <div style={{ position: 'absolute', left: 280.7, top: top - 5 }}>
    <ScatterChart width={62} height={90} margin={{ top: 5, left: 0, right: 0, bottom: 0 }}>
      <XAxis type="number" dataKey="x" domain={[0, 1]} hide />
      <YAxis type="number" dataKey="y" orientation="right" domain={[-16.5, 50.3]} ticks={[-15, 18, 50]} width={37.2}
        axisLine={false} tickLine={false} interval={0} allowDataOverflow
        tick={({ x, y, payload }: any) => (
          <text x={x - 5} y={y + 3} fontFamily={FONT} fontSize={8.6} fill="#444">{(payload.value / 100).toFixed(2)}</text>
        )} />
      <Scatter data={legendLevels.map((v) => ({ x: 0.5, y: v + 1, v }))} shape={<LegendCell />} isAnimationActive={false} />
      <ReferenceLine y={18} stroke="#3c6a3c" strokeWidth={0.8} />
      <ReferenceArea x1={0} x2={1} y1={-16.5} y2={50.3} fill="none" stroke="#8a8a8a" strokeWidth={0.8} />
    </ScatterChart>
  </div>
);

const BandPanel = ({ top, height, hi, lo, fit, yDomain, yTicks, sig, format }: any) => {
  const table = ciAges.map((age, i) => ({ age, band: [lo[i], hi[i]], fit: fit[i] }));
  const bottom = yDomain[0];
  return (
    <div style={{ position: 'absolute', left: 330, top: top - 5 }}>
      <ComposedChart width={327} height={height + 30} data={table} margin={{ top: 5, left: 0, right: 0.3, bottom: 0 }}>
        <XAxis type="number" dataKey="age" domain={[19, 75.1]} ticks={ciAgeTicks} height={25} allowDataOverflow
          axisLine={false} tickLine={{ stroke: AXIS_GREY }} tickSize={4} tick={<BottomTick />} interval={0} />
        <YAxis type="number" domain={yDomain} ticks={yTicks} width={56} allowDataOverflow
          axisLine={false} tickLine={{ stroke: AXIS_GREY }} tickSize={4} tick={<RotTick format={format} />} interval={0} />
        <Area dataKey="band" type="natural" stroke="none" fill="#d1d2e4" fillOpacity={1} isAnimationActive={false} />
        <ReferenceLine y={0} stroke="rgba(90,90,100,0.45)" strokeWidth={1.4} />
        <Line dataKey="fit" type="natural" stroke="#5a5a90" strokeWidth={0.7} dot={false} isAnimationActive={false} />
        <ReferenceLine segment={[{ x: 20, y: bottom }, { x: 70, y: bottom }]} stroke={AXIS_GREY} strokeWidth={1} />
        <ReferenceLine segment={[{ x: 19, y: yTicks[0] }, { x: 19, y: yTicks[yTicks.length - 1] }]} stroke={AXIS_GREY} strokeWidth={1} />
        <ReferenceLine x={sig[0]} stroke={NAVY} strokeWidth={1.6} strokeDasharray="2.4 2.4" />
        <ReferenceLine x={sig[1]} stroke={NAVY} strokeWidth={1.6} strokeDasharray="2.4 2.4" />
        <ReferenceLine segment={[{ x: sig[0], y: bottom }, { x: sig[1], y: bottom }]} stroke={NAVY} strokeWidth={2} />
      </ComposedChart>
    </div>
  );
};

const FittedNote = ({ y }: any) => <Caption x={285.5} y={y} text="fitted values" size={4} bold={false} rotate={-90} color="#8a8a8a" />;

export default function App() {
  return (
    <div style={{ position: 'absolute', left: 0, top: 0, width: 657, height: 806, background: '#fff', overflow: 'hidden' }}>
      <Caption x={5.5} y={16} text="a" size={18} />
      <Caption x={5.5} y={288.5} text="b" size={18} />
      <Caption x={6} y={563} text="c" size={18} />

      <Caption x={158.5} y={15.5} text="LDI" size={10.5} />
      <HeatMap top={39} height={190.3} rows={heatA} rowY={rowsYA} contours={contoursA} yDomain={[11.12, 16.25]} yTicks={[12, 13, 14, 15, 16]} />
      <ColorKey top={39} />
      <FittedNote y={217} />
      <Caption x={158.5} y={253} text="Age" size={8.6} />
      <Caption x={11} y={134} text="Left DG volume" size={8.6} rotate={-90} />

      <Caption x={158.5} y={290} text="LDI" size={10.5} />
      <HeatMap top={313.3} height={190} rows={heatB} rowY={rowsYB} contours={contoursB} yDomain={[10.37, 16.92]} yTicks={[11, 12, 13, 14, 15, 16]} />
      <ColorKey top={313.3} />
      <FittedNote y={492} />
      <Caption x={158.5} y={527} text="Age" size={8.6} />
      <Caption x={11} y={408} text="Right DG volume" size={8.6} rotate={-90} />

      <Caption x={158.5} y={563.5} text="LDI" size={10.5} />
      <HeatMap top={586.7} height={189.3} rows={heatC} rowY={rowsYC} contours={contoursC} yDomain={[-94.2, 67.6]} yTicks={[-50, 0, 50]} />
      <ColorKey top={586.7} />
      <FittedNote y={765} />
      <Caption x={158.5} y={800} text="Age" size={8.6} />
      <Caption x={11} y={682} text="Left CA3 activation" size={8.6} rotate={-90} />

      <Caption x={521} y={6} text="Quartile 3 > Quartile 1 in left DG volume" size={11.5} />
      <BandPanel top={19.3} height={209.7} hi={hiA} lo={loA} fit={fitA} yDomain={[-0.681, 0.806]}
        yTicks={[-0.6, -0.4, -0.2, 0, 0.2, 0.4, 0.6, 0.8]} sig={[42, 60]} format={(v: number) => v.toFixed(1)} />
      <Caption x={521} y={253} text="Age" size={8.6} />
      <Caption x={360.5} y={137} text="Estimated difference in LDI" size={8.4} rotate={-90} />

      <Caption x={521.5} y={279.5} text="Quartile 3 > Quartile 1 in right DG volume" size={11.5} />
      <BandPanel top={293.3} height={209.4} hi={hiB} lo={loB} fit={fitB} yDomain={[-0.2235, 0.304]}
        yTicks={[-0.2, -0.1, 0, 0.1, 0.2, 0.3]} sig={[42.2, 54.5]} format={(v: number) => v.toFixed(1)} />
      <Caption x={521} y={527} text="Age" size={8.6} />
      <Caption x={360.5} y={413} text="Estimated difference in LDI" size={8.4} rotate={-90} />

      <Caption x={521} y={553.5} text="Quartile 3 > Quartile 1 in left CA3 activation" size={11.5} />
      <BandPanel top={566.7} height={209.6} hi={hiC} lo={loC} fit={fitC} yDomain={[-0.1926, 0.2495]}
        yTicks={[-0.1, 0, 0.1, 0.2]} sig={[26.2, 45.2]} format={(v: number) => v.toFixed(1)} />
      <Caption x={521} y={800} text="Age" size={8.6} />
      <Caption x={360.5} y={680} text="Estimated difference in LDI" size={8.4} rotate={-90} />
    </div>
  );
}
